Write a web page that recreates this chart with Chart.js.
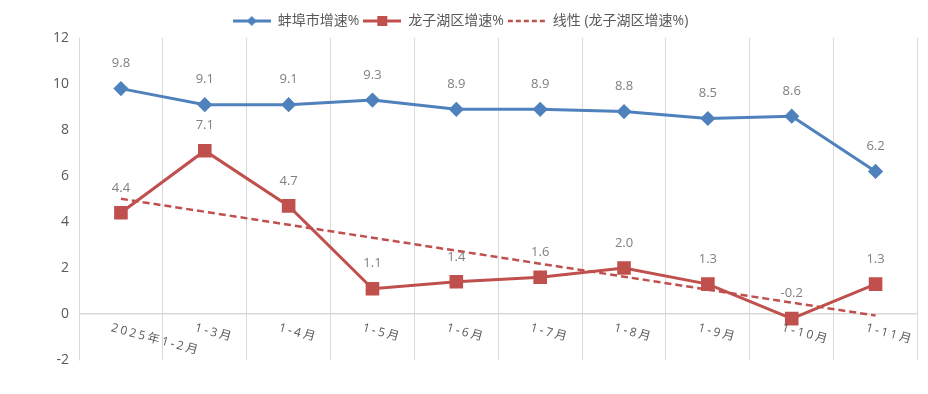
<!DOCTYPE html>
<html>
<head>
<meta charset="utf-8">
<script src="https://cdn.jsdelivr.net/npm/chart.js@4/dist/chart.umd.min.js"></script>
<style>
  html, body { margin: 0; padding: 0; background: #ffffff; }
  #wrap { width: 928px; height: 394px; position: relative; }
</style>
</head>
<body>
<div id="wrap"><canvas id="c" width="928" height="394"></canvas></div>
<script>
const categories = ['2025年1-2月', '1-3月', '1-4月', '1-5月', '1-6月', '1-7月', '1-8月', '1-9月', '1-10月', '1-11月'];
const bengbuValues = [9.8, 9.1, 9.1, 9.3, 8.9, 8.9, 8.8, 8.5, 8.6, 6.2];
const longzihuValues = [4.4, 7.1, 4.7, 1.1, 1.4, 1.6, 2.0, 1.3, -0.2, 1.3];
const seriesNames = ['蚌埠市增速%', '龙子湖区增速%', '线性 (龙子湖区增速%)'];
const yTicks = [-2, 0, 2, 4, 6, 8, 10, 12];

// Linear trendline (least squares) of the 龙子湖区 series, as the source chart's trendline
function linearTrend(vals) {
  const n = vals.length;
  let sx = 0, sy = 0, sxy = 0, sxx = 0;
  vals.forEach((v, i) => { const x = i + 1; sx += x; sy += v; sxy += x * v; sxx += x * x; });
  const b = (n * sxy - sx * sy) / (n * sxx - sx * sx);
  const a = (sy - b * sx) / n;
  return vals.map((_, i) => a + b * (i + 1));
}
const trendValues = linearTrend(longzihuValues);

const BLUE = '#4f81bd';
const RED = '#c0504d';
const TEXT = '#595959';
const LABEL = '#7f7f7f';
const GRID = '#d9d9d9';
const FONT = '"Open Sans", "Noto Sans CJK SC", sans-serif';

function makeIcon(kind) {
  const c = document.createElement('canvas');
  c.width = 38; c.height = 14;
  const g = c.getContext('2d');
  g.lineWidth = kind === 'dash' ? 2.5 : 3;
  if (kind === 'dash') g.setLineDash([5, 3]);
  g.strokeStyle = kind === 'blue' ? BLUE : RED;
  g.beginPath(); g.moveTo(0, 7); g.lineTo(38, 7); g.stroke();
  g.setLineDash([]);
  if (kind === 'blue') {
    g.fillStyle = BLUE;
    g.beginPath(); g.moveTo(19, 2); g.lineTo(24, 7); g.lineTo(19, 12); g.lineTo(14, 7); g.closePath(); g.fill();
  } else if (kind === 'red') {
    g.fillStyle = RED;
    g.fillRect(14, 2, 10, 10);
  }
  return c;
}
const icons = [makeIcon('blue'), makeIcon('red'), makeIcon('dash')];

const labelPlugin = {
  id: 'labels',
  afterDatasetsDraw(chart) {
    const ctx = chart.ctx;
    ctx.save();
    ctx.font = '13px ' + FONT;
    ctx.fillStyle = LABEL;
    ctx.textAlign = 'center';
    ctx.textBaseline = 'middle';
    [0, 1].forEach(di => {
      const meta = chart.getDatasetMeta(di);
      const vals = chart.data.datasets[di].data;
      meta.data.forEach((pt, i) => {
        ctx.fillText(vals[i].toFixed(1), pt.x, pt.y - 25);
      });
    });
    ctx.restore();

    // rotated category labels
    const xs = chart.scales.x;
    const yZero = chart.scales.y.getPixelForValue(0);
    ctx.save();
    ctx.font = '12px ' + FONT;
    ctx.fillStyle = TEXT;
    ctx.textAlign = 'left';
    ctx.textBaseline = 'top';
    try { ctx.letterSpacing = '2.5px'; } catch (e) {}
    categories.forEach((lab, i) => {
      const x = xs.getPixelForValue(i) - 8;
      ctx.save();
      ctx.translate(x, yZero + 8);
      ctx.rotate(15 * Math.PI / 180);
      ctx.fillText(lab, 0, 0);
      ctx.restore();
    });
    ctx.restore();
  }
};

new Chart(document.getElementById('c'), {
  type: 'line',
  data: {
    labels: categories,
    datasets: [
      {
        label: seriesNames[0], data: bengbuValues,
        borderColor: BLUE, backgroundColor: BLUE, borderWidth: 3,
        pointStyle: 'rectRot', pointRadius: 5.5, pointHoverRadius: 5.5, tension: 0
      },
      {
        label: seriesNames[1], data: longzihuValues,
        borderColor: RED, backgroundColor: RED, borderWidth: 3,
        pointStyle: 'rect', pointRadius: 7.5, pointHoverRadius: 7.5, tension: 0
      },
      {
        label: seriesNames[2], data: trendValues,
        borderColor: RED, backgroundColor: RED, borderWidth: 2.5, borderDash: [7, 4],
        pointRadius: 0, pointHoverRadius: 0, tension: 0
      }
    ]
  },
  options: {
    responsive: false,
    animation: false,
    layout: { padding: { left: 0, right: 7, top: 10, bottom: 34 } },
    plugins: {
      tooltip: { enabled: false },
      legend: {
        position: 'top',
        labels: {
          usePointStyle: true,
          pointStyleWidth: 38,
          boxHeight: 14,
          padding: 4,
          color: TEXT,
          font: { size: 14, family: FONT },
          generateLabels(chart) {
            const items = Chart.defaults.plugins.legend.labels.generateLabels(chart);
            items.forEach((it, i) => { it.pointStyle = icons[i]; });
            return items;
          }
        }
      }
    },
    scales: {
      x: {
        offset: true,
        grid: { display: true, offset: true, color: GRID, drawTicks: false },
        border: { display: false },
        ticks: { display: false }
      },
      y: {
        min: -2, max: 12,
        afterBuildTicks(scale) { scale.ticks = yTicks.map(v => ({ value: v })); },
        afterFit(scale) { scale.width = 79; },
        grid: {
          color: ctx => (ctx.tick && ctx.tick.value === 0 ? GRID : 'rgba(0,0,0,0)'),
          drawTicks: false,
          lineWidth: 1.5
        },
        border: { display: true, color: GRID },
        ticks: { color: TEXT, padding: 10, font: { size: 14, family: FONT } }
      }
    }
  },
  plugins: [labelPlugin]
});
</script>
</body>
</html>
